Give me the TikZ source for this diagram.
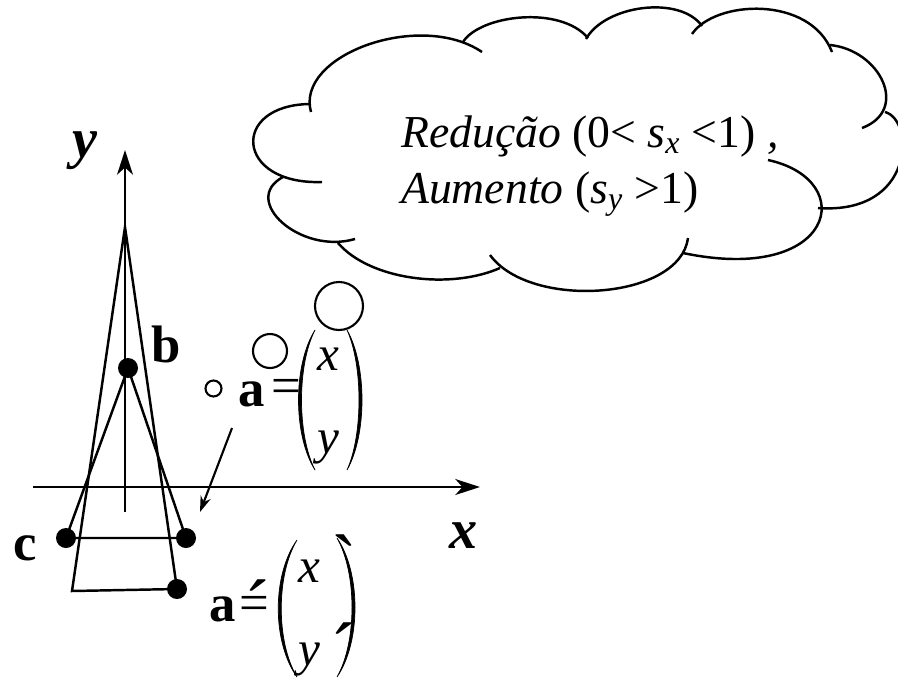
\documentclass[tikz,border=0pt]{standalone}
\usepackage{fontspec}
\setmainfont{Liberation Serif}
\usetikzlibrary{arrows.meta}

\begin{document}
\begin{tikzpicture}[x=0.02cm, y=-0.02cm, line width=1.4pt,
  lbl/.style={font=\fontsize{30}{30}\selectfont\bfseries, anchor=base west, inner sep=0pt},
  axlbl/.style={font=\fontsize{32}{32}\selectfont\bfseries\itshape, anchor=base, inner sep=0pt},
  cloudtxt/.style={font=\fontsize{26}{26}\selectfont, anchor=base west, inner sep=0pt},
  vec/.style={font=\fontsize{28}{28}\selectfont\itshape, anchor=base, inner sep=0pt},
  eqsign/.style={font=\fontsize{30}{30}\selectfont, anchor=base, inner sep=0pt},
  tick/.style={font=\fontsize{44}{44}\selectfont, anchor=center, inner sep=0pt},
  axis/.style={-{Stealth[length=14pt, width=9pt, inset=4pt]}},
  paren/.style={fill=black, line width=0.4pt}]
  \useasboundingbox (0,0) rectangle (898,680);

  % Thought cloud
  \draw (311,112) .. controls (295,55) and (420,10) .. (482,52);
  \draw (463,42) .. controls (480,15) and (560,5) .. (588,38);
  \draw (586,39) .. controls (605,5) and (680,-5) .. (702,26);
  \draw (692,34) .. controls (715,0) and (810,-5) .. (832,52);
  \draw (830,45) .. controls (880,50) and (910,110) .. (862,128);
  \draw (885,112) .. controls (915,120) and (915,215) .. (818,208);
  \draw (768,160) .. controls (860,180) and (835,285) .. (683,253);
  \draw (688,238) .. controls (680,300) and (530,310) .. (490,255);
  \draw (500,268) .. controls (450,290) and (370,280) .. (338,243);
  \draw (355,239) .. controls (300,255) and (240,200) .. (283,177);
  \draw (322,182) .. controls (235,185) and (230,105) .. (310,104);

  % Cloud text
  \node[cloudtxt] (red) at (400,147) {\textit{Redução} (0< \textit{s}\textsubscript{\textit{x}} <1) \textit{,}};
  \node[cloudtxt] (aum) at (400,203) {\textit{Aumento} (\textit{s}\textsubscript{\textit{y}} >1)};

  % Thought bubbles
  \draw[line width=1.2pt] (213.5,388.5) circle[radius=8];
  \draw[line width=1.2pt] (270,351) circle[radius=17];
  \draw[line width=1.2pt] (339,306) circle[radius=24];

  % Axes
  \coordinate (ybot) at (125,512);
  \coordinate (ytop) at (125,150);
  \coordinate (xleft) at (33,487);
  \coordinate (xright) at (480,487);
  \draw[axis] (ybot) -- (ytop);
  \draw[axis] (xleft) -- (xright);
  \node[axlbl] (ylab) at (85,157) {y};
  \node[axlbl] (xlab) at (464,548) {x};

  % Triangle points
  \coordinate (apex) at (125,227);
  \coordinate (bl) at (72,591);
  \coordinate (a2) at (177,589);
  \coordinate (b) at (128,368);
  \coordinate (c) at (66,538);
  \coordinate (a) at (186,538);

  % Scaled triangle
  \draw (apex) -- (bl) -- (a2) -- cycle;
  % Original triangle
  \draw (b) -- (c) -- (a) -- cycle;

  \foreach \p in {b,c,a,a2}
    \fill (\p) circle[radius=10];

  \node[lbl] (lb) at (150,362) {b};
  \node[lbl] (lc) at (12,560) {c};

  % Original point
  \node[lbl] (la) at (237,406) {a};
  \node[eqsign] (eqa) at (286,403) {=};
  \draw[paren] (315,330) .. controls (293,365) and (293,435) .. (315,470)
    .. controls (297,435) and (297,365) .. (315,330) -- cycle;
  \draw[paren] (347,330) .. controls (367,365) and (367,435) .. (347,470)
    .. controls (363,435) and (363,365) .. (347,330) -- cycle;
  \node[vec] (xa) at (328,370) {x};
  \node[vec] (ya) at (328,453) {y};

  % Pointer to a
  \coordinate (ptail) at (232,428);
  \coordinate (phead) at (200,512);
  \draw[line width=1.2pt, -{Stealth[length=9pt, width=6pt]}] (ptail) -- (phead);

  % Transformed point
  \node[lbl] (la2) at (208,621) {a};
  \node[eqsign] (eqa2) at (254,620) {=};
  \node[tick] (acc) at (257,607) {´};
  \draw[paren] (297,540) .. controls (272,575) and (272,642) .. (297,677)
    .. controls (276,642) and (276,575) .. (297,540) -- cycle;
  \draw[paren] (337,538) .. controls (361,573) and (361,642) .. (337,677)
    .. controls (357,642) and (357,573) .. (337,538) -- cycle;
  \node[vec] (xa2) at (309,582) {x};
  \node[vec] (ya2) at (309,665) {y};
  \node[tick, xscale=-1] (tx) at (345,562) {´};
  \node[tick] (ty) at (343,650) {´};
\end{tikzpicture}
\end{document}
